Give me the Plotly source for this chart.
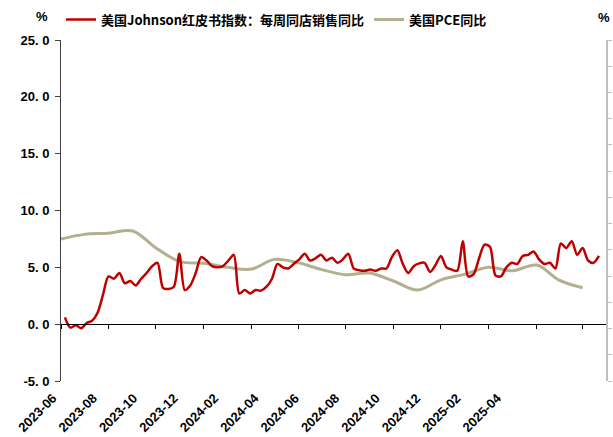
import plotly.graph_objects as go
import pandas as pd

# ---------------- data ----------------
red_name = "美国Johnson红皮书指数：每周同店销售同比"
pce_name = "美国PCE同比"

red_start = "2023-06-06"
red_values = [
    0.6, -0.3, -0.1, -0.35, 0.1, 0.3, 1.0, 2.6, 4.2, 4.0,
    4.5, 3.6, 3.8, 3.4, 4.0, 4.5, 5.1, 5.4, 3.2, 3.1,
    3.3, 6.2, 3.0, 3.4, 4.5, 5.9, 5.6, 5.1, 5.0, 5.1,
    5.6, 6.1, 2.7, 3.0, 2.7, 3.0, 2.95, 3.3, 4.0, 5.3,
    5.0, 4.9, 5.3, 5.7, 6.2, 5.6, 5.8, 6.1, 5.6, 5.85,
    5.4, 5.7, 6.2, 4.9, 4.75, 4.7, 4.8, 4.7, 4.9, 4.9,
    5.9, 6.5, 5.3, 4.5, 5.1, 5.35, 5.4, 4.6, 5.2, 6.0,
    5.0, 4.8, 4.7, 7.3, 4.2, 4.4, 5.8, 7.0, 6.8, 4.3,
    4.2, 5.0, 5.4, 5.3, 6.0, 6.1, 6.4, 5.7, 5.3, 5.4,
    4.9, 7.1, 6.7, 7.3, 6.1, 6.7, 5.6, 5.4, 6.0,
]
red_dates = pd.date_range(red_start, periods=len(red_values), freq="7D")

pce_start = "2023-06-01"
pce_values = [
    7.5, 7.9, 8.0, 8.2, 6.7, 5.5, 5.35, 5.0, 4.85, 5.7,
    5.4, 4.8, 4.35, 4.5, 3.8, 3.0, 3.9, 4.4, 5.0, 4.7,
    5.2, 3.9, 3.2,
]
pce_dates = pd.date_range(pce_start, periods=len(pce_values), freq="MS")

x_labels = ["2023-06", "2023-08", "2023-10", "2023-12", "2024-02", "2024-04",
            "2024-06", "2024-08", "2024-10", "2024-12", "2025-02", "2025-04"]
y_tickvals = [-5, 0, 5, 10, 15, 20, 25]
y_ticktext = ["-5. 0", "0. 0", "5. 0", "10. 0", "15. 0", "20. 0", "25. 0"]

x_range = ["2023-06-01", "2025-05-01"]
y_range = [-5, 25]

# ---------------- figure ----------------
RED = "#C00000"
OLIVE = "#B3B08F"
AXIS = "#404040"
BOLD_FONT = dict(family="Liberation Sans, Arial, sans-serif", size=13, color="#000000", weight="bold")

fig = go.Figure()

fig.add_trace(go.Scatter(
    x=pce_dates, y=pce_values, xaxis="x", yaxis="y", mode="lines", name=pce_name,
    line=dict(color=OLIVE, width=3, shape="spline", smoothing=1.0), legendrank=2,
    hoverinfo="skip",
))
fig.add_trace(go.Scatter(
    x=red_dates, y=red_values, xaxis="x2", yaxis="y", mode="lines", name=red_name,
    line=dict(color=RED, width=2.5, shape="spline", smoothing=0.8), legendrank=1,
    hoverinfo="skip",
))
# empty host traces for the helper axes
fig.add_trace(go.Scatter(x=[0], y=[None], xaxis="x3", yaxis="y", showlegend=False,
                         hoverinfo="skip", mode="lines"))
fig.add_trace(go.Scatter(x=[None], y=[None], xaxis="x", yaxis="y2", showlegend=False,
                         hoverinfo="skip", mode="lines"))

n_lab = len(x_labels)
fig.update_layout(
    width=613, height=437,
    margin=dict(l=61, r=7, t=40, b=56, autoexpand=False),
    paper_bgcolor="white", plot_bgcolor="white",
    showlegend=True,
    legend=dict(
        orientation="h", x=0.0, xanchor="left", y=1.06, yanchor="middle",
        font=dict(family="Noto Sans CJK SC", size=13, color="#000000", weight="bold"),
        bgcolor="rgba(0,0,0,0)", itemwidth=30, tracegroupgap=0,
    ),
    xaxis=dict(range=x_range, showticklabels=False, showline=False, ticks="",
               showgrid=False, zeroline=False, automargin=False),
    xaxis2=dict(range=x_range, overlaying="x", anchor="free",
                position=(0 - y_range[0]) / (y_range[1] - y_range[0]),
                tickmode="linear", tick0=x_range[0], dtick="M2",
                ticks="outside", ticklen=4, tickcolor="#000000", tickwidth=1,
                showticklabels=False, showline=True, linecolor="#000000", linewidth=1,
                showgrid=False, zeroline=False, automargin=False),
    xaxis3=dict(range=[-0.02, 13.47], overlaying="x", anchor="y", side="bottom",
                tickmode="array", tickvals=list(range(n_lab)), ticktext=x_labels,
                tickangle=-45, tickfont=BOLD_FONT, ticks="", showline=False,
                ticklabelshift=-9, ticklabelstandoff=6,
                showgrid=False, zeroline=False, automargin=False),
    yaxis=dict(range=y_range, tickmode="array", tickvals=y_tickvals, ticktext=y_ticktext,
               tickfont=BOLD_FONT, ticks="outside", ticklen=5, tickcolor=AXIS,
               ticklabelstandoff=3,
               showline=True, linecolor=AXIS, linewidth=1, showgrid=False, zeroline=False,
               automargin=False),
    yaxis2=dict(range=[0, 13], overlaying="y", side="right", anchor="x",
                tickmode="linear", tick0=0, dtick=1, ticks="outside", ticklen=4,
                tickcolor="#BFBFBF", showticklabels=False, showline=True,
                linecolor="#BFBFBF", linewidth=1.5, showgrid=False, zeroline=False,
                automargin=False),
    annotations=[
        dict(text="%", xref="paper", yref="paper", x=-0.035, y=1.07, showarrow=False,
             xanchor="center", yanchor="middle", font=BOLD_FONT),
        dict(text="%", xref="paper", yref="paper", x=1.0105, y=1.067, showarrow=False,
             xanchor="right", yanchor="middle", font=BOLD_FONT),
    ],
)

fig.write_html("out.html", config={"displayModeBar": False},
               post_script="document.body.style.margin='0px';")
